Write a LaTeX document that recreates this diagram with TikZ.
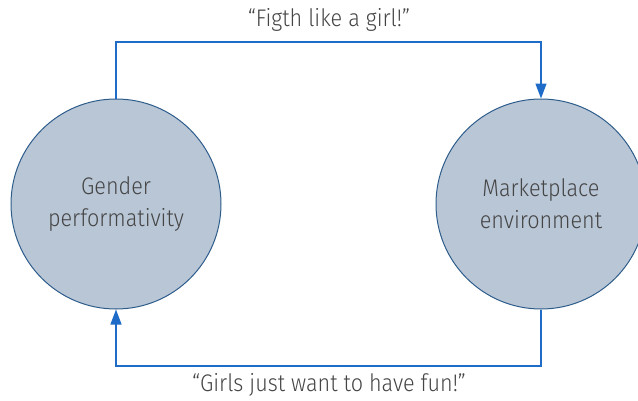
\documentclass[tikz,border=0pt]{standalone}
\usepackage{fontspec}
\setmainfont{Fira Sans}[UprightFont=* Light, FakeStretch=0.9]
\usetikzlibrary{arrows.meta}
\definecolor{circfill}{HTML}{B9C6D6}
\definecolor{circedge}{HTML}{2E5D8C}
\definecolor{linkblue}{HTML}{1E6CC8}
\definecolor{txtgray}{HTML}{454545}
\tikzset{
  bubble/.style={circle, draw=circedge, line width=1pt, fill=circfill,
    minimum size=210pt, inner sep=0pt, align=center, text=txtgray,
    font=\fontsize{24}{32}\selectfont},
  link/.style={draw=linkblue, line width=1.3pt,
    -{Triangle[length=15pt,width=11pt]}},
  caption/.style={text=txtgray, font=\fontsize{24}{28}\selectfont}
}
\begin{document}
\begin{tikzpicture}[x=1pt,y=-1pt]
  \useasboundingbox (0,0) rectangle (638,400);
  \clip (0,0) rectangle (638,400);
  \node[bubble] (gp) at (116,204) {Gender\\performativity};
  \node[bubble] (me) at (541,204) {Marketplace\\environment};
  \coordinate (top) at (0,42);
  \coordinate (bot) at (0,366);
  \draw[link] (gp.north) -- (gp.north |- top) -- (me.north |- top) -- (me.north);
  \draw[link] (me.south) -- (me.south |- bot) -- (gp.south |- bot) -- (gp.south);
  \node[caption] (t1) at (329,20) {“Figth like a girl!”};
  \node[caption] (t2) at (329,385) {“Girls just want to have fun!”};
\end{tikzpicture}
\end{document}
